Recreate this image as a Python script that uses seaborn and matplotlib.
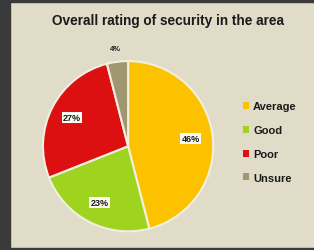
import matplotlib
matplotlib.use("Agg")
import matplotlib.pyplot as plt
import seaborn as sns
from matplotlib.patches import Rectangle, Patch

categories = ["Average", "Good", "Poor", "Unsure"]
values = [46, 23, 27, 4]
colors = ["#fcc200", "#9ed420", "#dc1010", "#a09670"]
title = "Overall rating of security in the area"

sns.set_theme(style="white")
plt.rcParams['font.family'] = ['Liberation Sans', 'DejaVu Sans']

bg = "#e0dcc8"
fig = plt.figure(figsize=(3.14, 2.51), dpi=100, facecolor=bg)

# dark frame on left/top/bottom
fig.patches.append(Rectangle((0, 0), 10/314, 1, transform=fig.transFigure, color="#3a3a3a", zorder=0))
fig.patches.append(Rectangle((0, 1 - 3/251), 1, 3/251, transform=fig.transFigure, color="#3a3a3a", zorder=0))
fig.patches.append(Rectangle((0, 0), 1, 2/251, transform=fig.transFigure, color="#3a3a3a", zorder=0))

ax = fig.add_axes([0.134, 0.071, 0.548, 0.685])
ax.set_facecolor(bg)
wedges, texts, autotexts = ax.pie(
    values, colors=colors, startangle=90, counterclock=False,
    autopct=lambda p: f"{p:.0f}%", pctdistance=0.74,
    wedgeprops=dict(edgecolor="#f3efe0", linewidth=1.5),
    textprops=dict(fontsize=6.5, fontweight="bold", color="#1a1a1a"),
)
for t in autotexts:
    t.set_bbox(dict(boxstyle="square,pad=0.12", facecolor="#fbfbf4", edgecolor="none"))
# small slice label sits outside
x, y = autotexts[3].get_position()
autotexts[3].set_position((x * 1.16 / 0.74, y * 1.16 / 0.74))
autotexts[3].set_bbox(dict(facecolor="none", edgecolor="none"))
autotexts[3].set_fontsize(5.5)
ax.set_xlim(-1.01, 1.01)
ax.set_ylim(-1.01, 1.01)
ax.set_aspect("equal")
ax.axis("off")

fig.text(0.535, 1 - 21/251, title, ha="center", va="center", fontsize=9.8, fontweight="bold", color="#1a1a1a")

handles = [Patch(facecolor=c, edgecolor="none") for c in colors]
leg = fig.legend(handles, categories, loc="center left", bbox_to_anchor=(0.755, 1 - 143/251),
                 frameon=False, fontsize=8, handlelength=0.6, handleheight=0.6,
                 handletextpad=0.35, labelspacing=1.25, borderpad=0)
for t in leg.get_texts():
    t.set_fontweight("bold")
    t.set_color("#1a1a1a")

fig.savefig("out.png", dpi=100, facecolor=bg)
